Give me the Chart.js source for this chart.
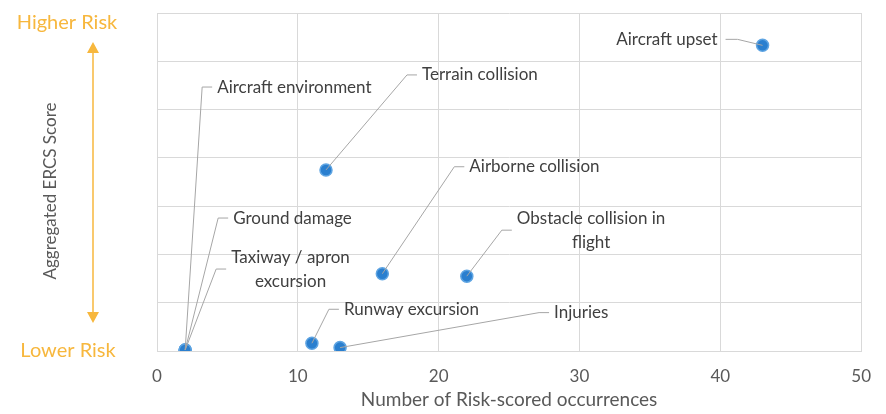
<!DOCTYPE html>
<html>
<head>
<meta charset="utf-8">
<script src="https://cdn.jsdelivr.net/npm/chart.js@4.4.0/dist/chart.umd.min.js"></script>
<style>
  html, body { margin: 0; padding: 0; background: #fff; }
  #wrap { width: 886px; height: 414px; }
</style>
</head>
<body>
<div id="wrap"><canvas id="myScatter"></canvas></div>
<script>
// occurrence categories and their scores
let categories = ["Aircraft upset", "Aircraft environment", "Terrain collision", "Airborne collision",
    "Obstacle collision in|flight", "Ground damage", "Taxiway / apron|excursion", "Runway excursion", "Injuries"];
let occurrences = [43, 2, 12, 16, 22, 2, 2, 11, 13];
let ercs_scores = [6.33, 0.02, 3.75, 1.6, 1.55, 0.02, 0.02, 0.16, 0.07];
let x_ticks = [0, 10, 20, 30, 40, 50];

// where each callout elbow sits relative to its point (px), and which side the text goes
let callouts = [
    { dx: -25, dy: -6, side: "left" },
    { dx: 17, dy: -263, side: "right" },
    { dx: 81, dy: -95, side: "right" },
    { dx: 72, dy: -107, side: "right" },
    { dx: 35, dy: -46, side: "right" },
    { dx: 33, dy: -132, side: "right" },
    { dx: 31, dy: -81, side: "right" },
    { dx: 17, dy: -34, side: "right" },
    { dx: 199, dy: -35, side: "right" }
];

const FONT = "Lato, 'Open Sans', sans-serif";
const ORANGE = "#F7B73D";

let calloutPlugin = {
    id: "callouts",
    afterDatasetsDraw(chart) {
        let ctx = chart.ctx;
        let meta = chart.getDatasetMeta(0);
        ctx.save();
        ctx.font = "17px " + FONT;
        ctx.textBaseline = "middle";
        meta.data.forEach((pt, i) => {
            let c = callouts[i];
            let ex = pt.x + c.dx, ey = pt.y + c.dy;
            let hx = c.side === "right" ? ex + 10 : ex - 12;
            ctx.strokeStyle = "#a6a6a6";
            ctx.lineWidth = 1;
            ctx.beginPath();
            ctx.moveTo(pt.x, pt.y);
            ctx.lineTo(ex, ey);
            ctx.lineTo(hx, ey);
            ctx.stroke();

            let lines = categories[i].split("|");
            ctx.fillStyle = "#404040";
            if (lines.length === 1) {
                ctx.textAlign = c.side === "right" ? "left" : "right";
                ctx.fillText(lines[0], c.side === "right" ? ex + 15 : ex - 20, ey);
            } else {
                let w = Math.max(...lines.map(l => ctx.measureText(l).width));
                let cx = ex + 15 + w / 2;
                ctx.textAlign = "center";
                lines.forEach((l, k) => {
                    ctx.fillText(l, cx, ey + (k - (lines.length - 1) / 2) * 24);
                });
            }
        });
        ctx.restore();
    },
    afterDraw(chart) {
        let ctx = chart.ctx;
        let area = chart.chartArea;
        ctx.save();
        // risk labels
        ctx.font = "20px " + FONT;
        ctx.fillStyle = ORANGE;
        ctx.textAlign = "center";
        ctx.textBaseline = "middle";
        ctx.fillText("Higher Risk", 67, area.top + 10);
        ctx.fillText("Lower Risk", 68, area.bottom);

        // double arrow
        let ax = 93, top = 42, bot = 323;
        ctx.strokeStyle = ORANGE;
        ctx.lineWidth = 1.5;
        ctx.beginPath();
        ctx.moveTo(ax, top + 8);
        ctx.lineTo(ax, bot - 8);
        ctx.stroke();
        ctx.beginPath();
        ctx.moveTo(ax, top);
        ctx.lineTo(ax - 6, top + 11);
        ctx.lineTo(ax + 6, top + 11);
        ctx.closePath();
        ctx.moveTo(ax, bot);
        ctx.lineTo(ax - 6, bot - 11);
        ctx.lineTo(ax + 6, bot - 11);
        ctx.closePath();
        ctx.fillStyle = ORANGE;
        ctx.fill();

        // y axis title
        ctx.translate(51, 191);
        ctx.rotate(-Math.PI / 2);
        ctx.font = "17px " + FONT;
        ctx.fillStyle = "#595959";
        ctx.fillText("Aggregated ERCS Score", 0, 0);
        ctx.restore();
    }
};

let myScatter = document.getElementById("myScatter").getContext("2d");

new Chart(myScatter, {
    type: "scatter",
    data: {
        datasets: [{
            label: "occurrences",
            data: occurrences.map((x, i) => ({ x: x, y: ercs_scores[i] })),
            backgroundColor: "#2a7fcf",
            borderColor: "#5ea4e2",
            borderWidth: 1.5,
            pointRadius: 6,
            pointHoverRadius: 6
        }]
    },
    options: {
        responsive: true,
        maintainAspectRatio: false,
        animation: false,
        layout: { padding: { top: 13, right: 24, left: 0, bottom: 3 } },
        plugins: {
            legend: { display: false },
            tooltip: { enabled: false }
        },
        scales: {
            x: {
                type: "linear",
                min: 0,
                max: 50,
                afterBuildTicks: s => { s.ticks = x_ticks.map(v => ({ value: v })); },
                afterFit: s => { s.height = 60; },
                grid: { color: "#d9d9d9", drawTicks: false },
                border: { color: "#d9d9d9" },
                ticks: { color: "#595959", font: { family: FONT, size: 17 }, padding: 15 },
                title: {
                    display: true,
                    text: "Number of Risk-scored occurrences",
                    color: "#595959",
                    font: { family: FONT, size: 19 },
                    padding: { top: 0, bottom: 0 }
                }
            },
            y: {
                type: "linear",
                min: 0,
                max: 7,
                ticks: { display: false, stepSize: 1 },
                grid: { color: "#d9d9d9", drawTicks: false },
                border: { color: "#d9d9d9" },
                afterFit: s => { s.width = 157; }
            }
        }
    },
    plugins: [calloutPlugin]
});
</script>
</body>
</html>
